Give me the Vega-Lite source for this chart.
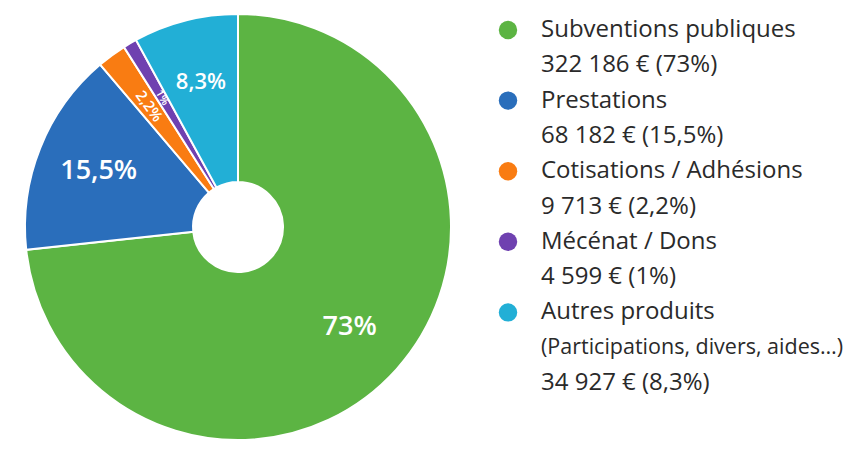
{
  "$schema": "https://vega.github.io/schema/vega-lite/v6.json",
  "width": 857,
  "height": 453,
  "autosize": {"type": "none"},
  "padding": 0,
  "background": "white",
  "config": {"view": {"stroke": null}},
  "datasets": {
    "slices": [
      {"idx": 1, "cat": "Subventions publiques", "value": 322186, "label": "73%"},
      {"idx": 2, "cat": "Prestations", "value": 68182, "label": "15,5%"},
      {"idx": 3, "cat": "Cotisations / Adhésions", "value": 9713, "label": "2,2%"},
      {"idx": 4, "cat": "Mécénat / Dons", "value": 4599, "label": "1%"},
      {"idx": 5, "cat": "Autres produits", "value": 34927, "label": "8,3%"}
    ],
    "legend": [
      {"line": 0, "cat": "Subventions publiques", "kind": "title", "text": "Subventions publiques"},
      {"line": 1, "cat": "Subventions publiques", "kind": "value", "text": "322 186 € (73%)"},
      {"line": 2, "cat": "Prestations", "kind": "title", "text": "Prestations"},
      {"line": 3, "cat": "Prestations", "kind": "value", "text": "68 182 € (15,5%)"},
      {"line": 4, "cat": "Cotisations / Adhésions", "kind": "title", "text": "Cotisations / Adhésions"},
      {"line": 5, "cat": "Cotisations / Adhésions", "kind": "value", "text": "9 713 € (2,2%)"},
      {"line": 6, "cat": "Mécénat / Dons", "kind": "title", "text": "Mécénat / Dons"},
      {"line": 7, "cat": "Mécénat / Dons", "kind": "value", "text": "4 599 € (1%)"},
      {"line": 8, "cat": "Autres produits", "kind": "title", "text": "Autres produits"},
      {"line": 9, "cat": "Autres produits", "kind": "sub", "text": "(Participations, divers, aides…)"},
      {"line": 10, "cat": "Autres produits", "kind": "value", "text": "34 927 € (8,3%)"}
    ]
  },
  "layer": [
    {
      "data": {"name": "slices"},
      "mark": {"type": "arc", "outerRadius": 213, "innerRadius": 45, "stroke": "white", "strokeWidth": 2},
      "encoding": {
        "theta": {"field": "value", "type": "quantitative", "stack": true},
        "order": {"field": "idx", "type": "quantitative"},
        "color": {
          "field": "cat", "type": "nominal",
          "scale": {
            "domain": ["Subventions publiques", "Prestations", "Cotisations / Adhésions", "Mécénat / Dons", "Autres produits"],
            "range": ["#5cb443", "#2a6ebb", "#f97c12", "#6f41b0", "#22afd6"]
          },
          "legend": null
        },
        "x": {"value": 238},
        "y": {"value": 227}
      }
    },
    {
      "data": {"name": "slices"},
      "mark": {"type": "text", "fill": "white", "font": "Open Sans", "fontWeight": 600, "align": "center", "baseline": "middle"},
      "encoding": {
        "theta": {"field": "value", "type": "quantitative", "stack": true},
        "order": {"field": "idx", "type": "quantitative"},
        "detail": {"field": "cat", "type": "nominal"},
        "text": {"field": "label", "type": "nominal"},
        "radius": {"condition": [{"test": "datum.idx === 3", "value": 178}, {"test": "datum.idx === 4", "value": 192}, {"test": "datum.idx === 1", "value": 135}], "value": 150},
        "angle": {"condition": [{"test": "datum.idx === 3", "value": 54}, {"test": "datum.idx === 4", "value": 59.5}], "value": 0},
        "size": {
          "field": "value", "type": "quantitative",
          "scale": {"type": "threshold", "domain": [5000, 10000, 50000], "range": [11, 15, 22, 27]},
          "legend": null
        },
        "x": {"value": 238},
        "y": {"value": 227}
      }
    },
    {
      "data": {"name": "legend"},
      "transform": [{"filter": "datum.kind === 'title'"}],
      "mark": {"type": "point", "filled": true, "opacity": 1, "shape": "circle"},
      "encoding": {
        "x": {"value": 508},
        "y": {"field": "line", "type": "quantitative", "scale": {"domain": [0, 10], "range": [30, 383], "nice": false, "zero": false}, "axis": null},
        "color": {"field": "cat", "type": "nominal"},
        "size": {"value": 340}
      }
    },
    {
      "data": {"name": "legend"},
      "mark": {"type": "text", "align": "left", "baseline": "middle", "font": "Open Sans", "fontWeight": 500, "color": "#2a2a2a"},
      "encoding": {
        "x": {"value": 541},
        "y": {"field": "line", "type": "quantitative"},
        "text": {"field": "text", "type": "nominal"},
        "size": {"condition": {"test": "datum.kind === 'sub'", "value": 21.5}, "value": 24}
      }
    }
  ]
}
